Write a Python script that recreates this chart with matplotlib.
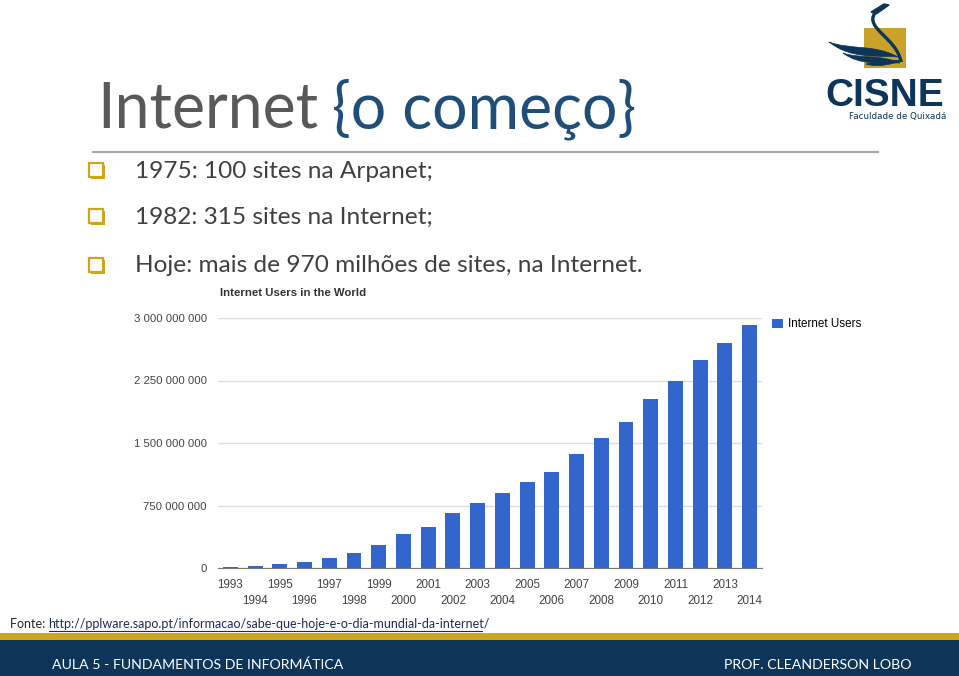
import matplotlib
matplotlib.use("Agg")
import matplotlib.pyplot as plt
import numpy as np
from matplotlib.patches import Rectangle, PathPatch
from matplotlib.path import Path

# data
years = [str(y) for y in range(1993, 2015)]
users = [14e6, 25e6, 44e6, 74e6, 116e6, 184e6, 278e6, 408e6, 495e6, 660e6, 775e6,
         903e6, 1027e6, 1157e6, 1370e6, 1560e6, 1755e6, 2026e6, 2245e6, 2498e6,
         2705e6, 2919e6]
yticks = [0, 750e6, 1500e6, 2250e6, 3000e6]
ytick_labels = ["0", "750 000 000", "1 500 000 000", "2 250 000 000", "3 000 000 000"]

bullets = ["1975: 100 sites na Arpanet;",
           "1982: 315 sites na Internet;",
           "Hoje: mais de 970 milhões de sites, na Internet."]
bullet_y = [171, 217, 266]

NAVY = "#0c3559"
GOLD = "#d0a51c"
BAR = "#3366cc"
W, H = 959, 676

fig = plt.figure(figsize=(W / 100, H / 100), dpi=100)
fig.patch.set_facecolor("white")

# slide background drawn in pixel coords
bg = fig.add_axes([0, 0, 1, 1])
bg.set_xlim(0, W)
bg.set_ylim(H, 0)
bg.axis("off")

# title
t1 = bg.text(97, 128, "Internet", fontsize=45, family="Lato", color="#595959", va="baseline")
fig.canvas.draw()
bb = t1.get_window_extent()
bg.text(97 + bb.width + 14, 128, "{o começo}", fontsize=45, family="Lato", color="#1f4e79",
        va="baseline")
bg.plot([93, 878], [152, 152], color="#a6a6a6", lw=1.5)

# logo
bg.add_patch(Rectangle((864, 28), 42, 40, facecolor="#c9a227", edgecolor="none"))
neck = Path([(875, 13), (864, 28), (897, 38), (901, 62)],
            [Path.MOVETO, Path.CURVE4, Path.CURVE4, Path.CURVE4])
bg.add_patch(PathPatch(neck, facecolor="none", edgecolor=NAVY, lw=2.4))
bg.add_patch(plt.Polygon([(871, 12), (884, 4), (889, 5), (882, 10), (876, 14)],
                         closed=True, color=NAVY))
wings = [
    [(829, 42), (850, 50), (875, 44), (898, 57), (878, 55), (852, 60), (829, 42)],
    [(843, 53), (860, 59), (880, 54), (900, 63), (880, 62), (860, 66), (843, 53)],
    [(866, 64), (878, 61), (890, 59), (903, 61), (890, 64), (878, 68), (866, 64)],
]
codes = [Path.MOVETO, Path.CURVE4, Path.CURVE4, Path.CURVE4, Path.CURVE4, Path.CURVE4, Path.CURVE4]
for w in wings:
    bg.add_patch(PathPatch(Path(w, codes), facecolor=NAVY, edgecolor=NAVY, lw=0.5))
bg.text(885, 96, "CISNE", fontsize=28, family="Liberation Sans", weight="bold",
        color=NAVY, ha="center", va="center")
bg.text(898, 117, "Faculdade de Quixadá", fontsize=6.3, family="Liberation Sans Narrow",
        color=NAVY, ha="center", va="center")

# bullets
for txt, y in zip(bullets, bullet_y):
    bg.add_patch(Rectangle((91, y - 6), 14, 14, facecolor=GOLD, edgecolor="none"))
    bg.add_patch(Rectangle((89, y - 8), 14, 14, facecolor="white", edgecolor=GOLD, lw=1.6))
    bg.text(135, y, txt, fontsize=17.6, family="Lato", color="#404040", va="center")

# source line and footer
src = bg.text(10, 624, "Fonte: ", fontsize=9, family="Lato", color="#262626", va="center")
fig.canvas.draw()
sw = src.get_window_extent().width
bg.text(10 + sw, 624, "http://pplware.sapo.pt/informacao/sabe-que-hoje-e-o-dia-mundial-da-internet/",
        fontsize=9, family="Lato", color="#1f2a5a", va="center")
link_end = 482
bg.plot([10 + sw, link_end], [631, 631], color="#1f2a5a", lw=0.8)

bg.add_patch(Rectangle((0, 633), W, 8, facecolor=GOLD, edgecolor="none"))
bg.add_patch(Rectangle((0, 640), W, 36, facecolor=NAVY, edgecolor="none"))
bg.text(52, 665, "AULA 5 - FUNDAMENTOS DE INFORMÁTICA", fontsize=10.2, family="Lato",
        color="white", va="center")
bg.text(911, 665, "PROF. CLEANDERSON LOBO", fontsize=10.2, family="Lato",
        color="white", va="center", ha="right")

# the chart
ax = fig.add_axes([218 / W, (H - 568) / H, 544 / W, 250 / H])
x = np.arange(len(years))
ax.bar(x, users, width=0.6, color=BAR, zorder=3, label="Internet Users")
ax.set_xlim(-0.5, len(years) - 0.5)
ax.set_ylim(0, 3000e6)
ax.set_yticks(yticks)
ax.set_yticklabels(ytick_labels, family="Liberation Sans", fontsize=8.2, color="#444444")
ax.set_xticks(x)
ax.set_xticklabels([y if i % 2 == 0 else "\n" + y for i, y in enumerate(years)],
                   family="Liberation Sans", fontsize=8.4, color="#444444", linespacing=1.4)
ax.tick_params(length=0)
ax.tick_params(axis="y", pad=8)
ax.tick_params(axis="x", pad=8)
ax.grid(axis="y", color="#dddddd", lw=1, zorder=0)
for s in ["top", "right", "left"]:
    ax.spines[s].set_visible(False)
ax.spines["bottom"].set_color("#777777")
ax.spines["bottom"].set_zorder(4)

bg.text(220, 293, "Internet Users in the World", fontsize=8.2, family="Liberation Sans",
        weight="bold", color="#333333", va="center")
ax.legend(loc="upper left", bbox_to_anchor=(1.0, 1.04), frameon=False, handlelength=0.9,
          handleheight=0.9, handletextpad=0.45, prop={"family": "Liberation Sans", "size": 8.4})

fig.savefig("out.png", dpi=100)
